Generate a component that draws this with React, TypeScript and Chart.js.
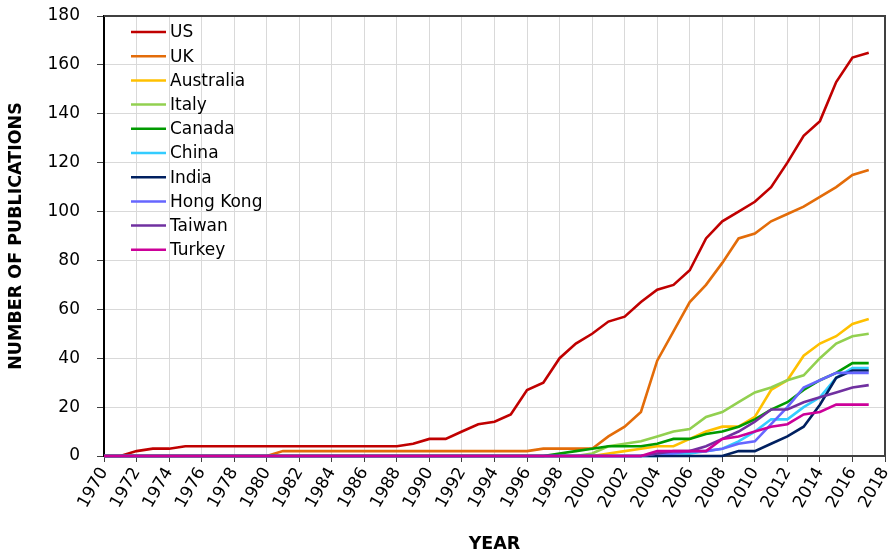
import React, { useEffect, useRef } from 'react';
import { Chart, registerables } from 'chart.js';

Chart.register(...registerables);

const years = [
  1970, 1971, 1972, 1973, 1974, 1975, 1976, 1977, 1978, 1979,
  1980, 1981, 1982, 1983, 1984, 1985, 1986, 1987, 1988, 1989,
  1990, 1991, 1992, 1993, 1994, 1995, 1996, 1997, 1998, 1999,
  2000, 2001, 2002, 2003, 2004, 2005, 2006, 2007, 2008, 2009,
  2010, 2011, 2012, 2013, 2014, 2015, 2016, 2017,
];

const xTicks = [
  1970, 1972, 1974, 1976, 1978, 1980, 1982, 1984, 1986, 1988, 1990, 1992,
  1994, 1996, 1998, 2000, 2002, 2004, 2006, 2008, 2010, 2012, 2014, 2016, 2018,
];
const yTicks = [0, 20, 40, 60, 80, 100, 120, 140, 160, 180];

const seriesNames = ['US', 'UK', 'Australia', 'Italy', 'Canada', 'China', 'India', 'Hong Kong', 'Taiwan', 'Turkey'];

const us = [
  0, 0, 2, 3, 3, 4, 4, 4, 4, 4,
  4, 4, 4, 4, 4, 4, 4, 4, 4, 5,
  7, 7, 10, 13, 14, 17, 27, 30, 40, 46,
  50, 55, 57, 63, 68, 70, 76, 89, 96, 100,
  104, 110, 120, 131, 137, 153, 163, 165,
];
const uk = [
  0, 0, 0, 0, 0, 0, 0, 0, 0, 0,
  0, 2, 2, 2, 2, 2, 2, 2, 2, 2,
  2, 2, 2, 2, 2, 2, 2, 3, 3, 3,
  3, 8, 12, 18, 39, 51, 63, 70, 79, 89,
  91, 96, 99, 102, 106, 110, 115, 117,
];
const australia = [
  0, 0, 0, 0, 0, 0, 0, 0, 0, 0,
  0, 0, 0, 0, 0, 0, 0, 0, 0, 0,
  0, 0, 0, 0, 0, 0, 0, 0, 0, 0,
  0, 1, 2, 3, 4, 4, 7, 10, 12, 12,
  16, 27, 31, 41, 46, 49, 54, 56,
];
const italy = [
  0, 0, 0, 0, 0, 0, 0, 0, 0, 0,
  0, 0, 0, 0, 0, 0, 0, 0, 0, 0,
  0, 0, 0, 0, 0, 0, 0, 0, 0, 0,
  1, 4, 5, 6, 8, 10, 11, 16, 18, 22,
  26, 28, 31, 33, 40, 46, 49, 50,
];
const canada = [
  0, 0, 0, 0, 0, 0, 0, 0, 0, 0,
  0, 0, 0, 0, 0, 0, 0, 0, 0, 0,
  0, 0, 0, 0, 0, 0, 0, 0, 1, 2,
  3, 4, 4, 4, 5, 7, 7, 9, 10, 12,
  15, 19, 22, 27, 31, 34, 38, 38,
];
const china = [
  0, 0, 0, 0, 0, 0, 0, 0, 0, 0,
  0, 0, 0, 0, 0, 0, 0, 0, 0, 0,
  0, 0, 0, 0, 0, 0, 0, 0, 0, 0,
  0, 0, 0, 0, 0, 1, 1, 2, 3, 6,
  10, 15, 15, 20, 24, 32, 36, 36,
];
const india = [
  0, 0, 0, 0, 0, 0, 0, 0, 0, 0,
  0, 0, 0, 0, 0, 0, 0, 0, 0, 0,
  0, 0, 0, 0, 0, 0, 0, 0, 0, 0,
  0, 0, 0, 0, 0, 0, 0, 0, 0, 2,
  2, 5, 8, 12, 21, 32, 35, 35,
];
const hongKong = [
  0, 0, 0, 0, 0, 0, 0, 0, 0, 0,
  0, 0, 0, 0, 0, 0, 0, 0, 0, 0,
  0, 0, 0, 0, 0, 0, 0, 0, 0, 0,
  0, 0, 0, 0, 1, 1, 2, 2, 3, 5,
  6, 13, 20, 28, 31, 34, 34, 34,
];
const taiwan = [
  0, 0, 0, 0, 0, 0, 0, 0, 0, 0,
  0, 0, 0, 0, 0, 0, 0, 0, 0, 0,
  0, 0, 0, 0, 0, 0, 0, 0, 0, 0,
  0, 0, 0, 0, 1, 2, 2, 4, 7, 10,
  14, 19, 19, 22, 24, 26, 28, 29,
];
const turkey = [
  0, 0, 0, 0, 0, 0, 0, 0, 0, 0,
  0, 0, 0, 0, 0, 0, 0, 0, 0, 0,
  0, 0, 0, 0, 0, 0, 0, 0, 0, 0,
  0, 0, 0, 0, 2, 2, 2, 2, 7, 8,
  10, 12, 13, 17, 18, 21, 21, 21,
];

const seriesValues = [us, uk, australia, italy, canada, china, india, hongKong, taiwan, turkey];
const seriesColors = ['#C00000', '#E36C09', '#FFC000', '#92D050', '#009A00', '#33CCFF', '#002060', '#6666FF', '#7030A0', '#CC0099'];

const FONT = 'DejaVu Sans';

const frame = {
  id: 'frame',
  beforeDatasetsDraw(chart: any) {
    const { ctx, chartArea } = chart;
    ctx.save();
    ctx.strokeStyle = '#404040';
    ctx.lineWidth = 2;
    ctx.beginPath();
    ctx.moveTo(chartArea.left, chartArea.top);
    ctx.lineTo(chartArea.right, chartArea.top);
    ctx.lineTo(chartArea.right, chartArea.bottom);
    ctx.stroke();
    ctx.restore();
  },
};

const insideLegend = {
  id: 'insideLegend',
  afterDraw(chart: any) {
    const { ctx, chartArea } = chart;
    const x0 = chartArea.left + 27;
    const y0 = chartArea.top + 16;
    const step = 24.2;
    ctx.save();
    ctx.font = `17px "${FONT}"`;
    ctx.textBaseline = 'middle';
    ctx.textAlign = 'left';
    chart.data.datasets.forEach((ds: any, i: number) => {
      const y = y0 + i * step;
      ctx.strokeStyle = ds.borderColor;
      ctx.lineWidth = 2.5;
      ctx.beginPath();
      ctx.moveTo(x0, y);
      ctx.lineTo(x0 + 35, y);
      ctx.stroke();
      ctx.fillStyle = '#000';
      ctx.fillText(ds.label, x0 + 39, y + 1);
    });
    ctx.restore();
  },
};

export default function App() {
  const ref = useRef<HTMLCanvasElement | null>(null);

  useEffect(() => {
    document.body.style.margin = '0';
    const canvas = ref.current;
    if (!canvas) return;
    const n = seriesNames.length;
    const chart = new Chart(canvas, {
      type: 'line',
      data: {
        datasets: seriesNames.map((name, i) => ({
          label: name,
          data: years.map((yr, j) => ({ x: yr, y: seriesValues[i][j] })),
          borderColor: seriesColors[i],
          backgroundColor: seriesColors[i],
          borderWidth: 2.6,
          pointRadius: 0,
          tension: 0,
          fill: false,
          clip: false,
          order: n - 1 - i,
        })),
      },
      options: {
        animation: false,
        responsive: false,
        devicePixelRatio: 1,
        events: [],
        layout: { padding: { top: 16, right: 9, bottom: 0, left: 0 } },
        plugins: {
          legend: { display: false },
          tooltip: { enabled: false },
        },
        scales: {
          x: {
            type: 'linear',
            min: 1970,
            max: 2018,
            afterBuildTicks: (s: any) => {
              s.ticks = xTicks.map((v) => ({ value: v }));
            },
            afterFit: (s: any) => {
              s.height = 103;
              s.paddingLeft = 0;
              s.paddingRight = 0;
            },
            grid: { color: '#d9d9d9', lineWidth: 1, tickColor: '#404040', tickLength: 6 },
            border: { color: '#404040', width: 2 },
            ticks: {
              autoSkip: false,
              minRotation: 60,
              maxRotation: 60,
              padding: 2,
              color: '#000',
              font: { family: FONT, size: 17 },
              callback: (v: any) => String(v),
            },
            title: {
              display: true,
              text: 'YEAR',
              color: '#000',
              font: { family: FONT, size: 17.5, weight: 'bold' },
              padding: { top: 0, bottom: 4 },
            },
          },
          y: {
            min: 0,
            max: 180,
            afterBuildTicks: (s: any) => {
              s.ticks = yTicks.map((v) => ({ value: v }));
            },
            afterFit: (s: any) => {
              s.width = 104;
              s.paddingTop = 0;
              s.paddingBottom = 0;
            },
            grid: { color: '#d9d9d9', lineWidth: 1, tickColor: '#404040', tickLength: 7 },
            border: { color: '#000', width: 2 },
            ticks: {
              padding: 17,
              color: '#000',
              font: { family: FONT, size: 17 },
              callback: (v: any) => String(v),
            },
            title: {
              display: true,
              text: 'NUMBER OF PUBLICATIONS',
              color: '#000',
              font: { family: FONT, size: 17.5, weight: 'bold' },
              padding: { top: 6, bottom: 0 },
            },
          },
        },
      },
      plugins: [frame, insideLegend],
    } as any);
    return () => chart.destroy();
  }, []);

  return (
    <div style={{ width: 894, height: 559, position: 'relative' }}>
      <canvas ref={ref} width={894} height={559} />
    </div>
  );
}
